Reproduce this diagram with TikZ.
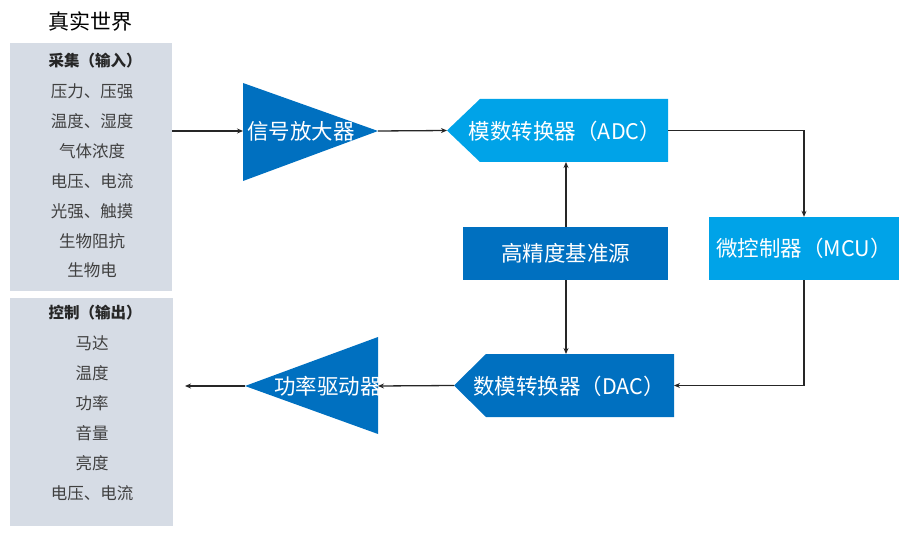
\documentclass[tikz,border=0pt]{standalone}
\usepackage{fontspec}
\setmainfont{Noto Sans CJK SC}
\usetikzlibrary{arrows.meta}

\definecolor{darkblue}{HTML}{0070C0}
\definecolor{lightblue}{HTML}{00A3E8}
\definecolor{listgray}{HTML}{D6DCE5}
\definecolor{listtext}{HTML}{404040}
\definecolor{linegray}{HTML}{262626}

\tikzset{
  boxtext/.style={text=white,inner sep=0pt,font=\fontsize{21.5}{25}\selectfont},
  listitem/.style={text=listtext,inner sep=0pt,font=\fontsize{16.5}{19}\selectfont},
  listhead/.style={text=linegray,inner sep=0pt,font=\fontsize{15.5}{19}\selectfont\bfseries},
  flow/.style={draw=linegray,line width=1.3pt,-{Stealth[length=6pt,width=5pt]}}
}

\begin{document}
\begin{tikzpicture}[x=1pt,y=-1pt]
  \useasboundingbox (0,0) rectangle (907,534);

  \node (title) at (90,22) {\fontsize{21}{25}\selectfont 真实世界};

  % the two lists
  \begin{scope}[every node/.style={fill=listgray,inner sep=0pt}]
    \node[minimum width=162pt,minimum height=248pt] (inbox) at (91,167) {};
    \node[minimum width=163pt,minimum height=228pt] (outbox) at (91.5,412) {};
  \end{scope}

  \node[listhead] (in0) at (95,61) {采集（输入）};
  \node[listitem] (in1) at (92,91) {压力、压强};
  \node[listitem] (in2) at (92,121) {温度、湿度};
  \node[listitem] (in3) at (92,151) {气体浓度};
  \node[listitem] (in4) at (92,181) {电压、电流};
  \node[listitem] (in5) at (92,211) {光强、触摸};
  \node[listitem] (in6) at (92,241) {生物阻抗};
  \node[listitem] (in7) at (92,270) {生物电};

  \node[listhead] (out0) at (95,313) {控制（输出）};
  \node[listitem] (out1) at (92,343) {马达};
  \node[listitem] (out2) at (92,373) {温度};
  \node[listitem] (out3) at (92,403) {功率};
  \node[listitem] (out4) at (92,433) {音量};
  \node[listitem] (out5) at (92,463) {亮度};
  \node[listitem] (out6) at (92,493) {电压、电流};

  % amplifier and driver
  \coordinate (ampin) at (243,131);
  \coordinate (ampout) at (378,131);
  \fill[darkblue] (243,83) -- (ampout) -- (243,181) -- cycle;
  \node[boxtext] (amp) at (301,131) {信号放大器};

  \coordinate (drvin) at (378,386);
  \coordinate (drvout) at (245,386);
  \fill[darkblue] (378,337) -- (drvout) -- (378,434) -- cycle;
  \node[boxtext] (drv) at (328,386) {功率驱动器};

  % converters
  \coordinate (adcin) at (447,130.5);
  \fill[lightblue] (adcin) -- (480,99) -- (668,99) -- (668,162) -- (480,162) -- cycle;
  \coordinate (adcout) at (668,130.5);
  \coordinate (adcbot) at (566,162);
  \node[boxtext] (adc) at (565,131) {模数转换器（ADC）};

  \coordinate (dacout) at (454,385.5);
  \fill[darkblue] (dacout) -- (486,354) -- (674,354) -- (674,417) -- (486,417) -- cycle;
  \coordinate (dacin) at (674,385.5);
  \coordinate (dactop) at (566,354);
  \node[boxtext] (dac) at (569,386) {数模转换器（DAC）};

  \begin{scope}[every node/.style={boxtext,inner sep=0pt}]
    \node[fill=lightblue,minimum width=190pt,minimum height=63pt] (mcu) at (804,248.5) {微控制器（MCU）};
    \node[fill=darkblue,minimum width=205pt,minimum height=53pt] (ref) at (565.5,253.5) {高精度基准源};
  \end{scope}

  % connectors
  \coordinate (outend) at (185,386);
  \draw[flow] (inbox.east |- ampin) -- (ampin);
  \draw[flow] (ampout) -- (adcin);
  \draw[flow] (adcout) -| (mcu.north);
  \draw[flow] (ref.north -| adcbot) -- (adcbot);
  \draw[flow] (ref.south -| dactop) -- (dactop);
  \draw[flow] (mcu.south) |- (dacin);
  \draw[flow] (dacout) -- (drvin);
  \draw[flow] (drvout) -- (outend);

\end{tikzpicture}
\end{document}
